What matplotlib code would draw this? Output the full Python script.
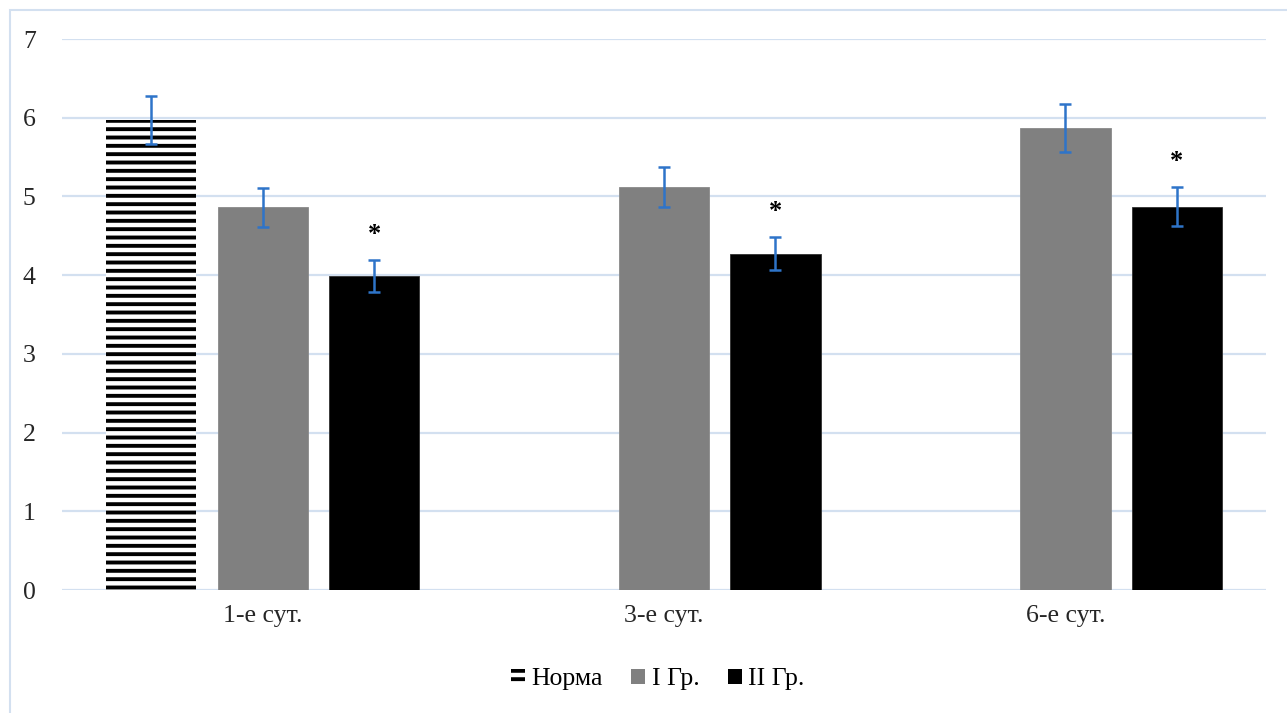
import matplotlib
matplotlib.use("Agg")
import matplotlib.pyplot as plt
import numpy as np
from matplotlib.patches import Rectangle

plt.rcParams['font.family'] = ['Liberation Serif', 'DejaVu Serif']
plt.rcParams['hatch.linewidth'] = 2.8

categories = ["1-е сут.", "3-е сут.", "6-е сут."]
series = ["Норма", "I Гр.", "II Гр."]
norma = [5.97, np.nan, np.nan]
norma_err = [0.30, 0, 0]
gr1 = [4.86, 5.12, 5.87]
gr1_err = [0.25, 0.26, 0.31]
gr2 = [3.99, 4.27, 4.87]
gr2_err = [0.20, 0.21, 0.25]
signif = [True, True, True]  # * over II Гр.

grid_c = "#D3E0F0"
err_c = "#2E74C9"

fig = plt.figure(figsize=(12.87, 7.13), dpi=100)
ax = fig.add_axes([0.0482, 0.1725, 0.9355, 0.7728])

x = np.arange(len(categories))
w = 0.225
off = 0.2775
ekw = dict(ecolor=err_c, elinewidth=1.8, capsize=4.5, capthick=1.8)

ax.bar(x - off, norma, w, color="white", edgecolor="black", hatch="--",
       linewidth=0, yerr=norma_err, error_kw=ekw, zorder=2)
ax.bar(x, gr1, w, color="#808080", edgecolor="#8a8a8a", linewidth=0.6,
       yerr=gr1_err, error_kw=ekw, zorder=2)
ax.bar(x + off, gr2, w, color="black", edgecolor="#303030", linewidth=0.6,
       yerr=gr2_err, error_kw=ekw, zorder=2)

for i, s in enumerate(signif):
    if s:
        ax.text(x[i] + off, gr2[i] + gr2_err[i] + 0.33, "*", ha="center",
                va="center", fontsize=19, fontweight="bold")

ax.set_xlim(-0.5, 2.5)
ax.set_ylim(0, 7)
ax.set_yticks(range(0, 8))
ax.set_xticks(x)
ax.set_xticklabels(categories)
ax.tick_params(axis="both", length=0, labelsize=18.5, colors="#262626")
ax.tick_params(axis="y", pad=19)
ax.tick_params(axis="x", pad=11)
ax.yaxis.grid(True, color=grid_c, linewidth=1.6, zorder=0)
ax.set_axisbelow(True)
for sp in ax.spines.values():
    sp.set_visible(False)

handles = [Rectangle((0, 0), 1, 1, facecolor="white", edgecolor="black",
                     hatch="--", linewidth=0),
           Rectangle((0, 0), 1, 1, facecolor="#808080", linewidth=0),
           Rectangle((0, 0), 1, 1, facecolor="black", linewidth=0)]
fig.legend(handles, series, loc="center", bbox_to_anchor=(0.511, 0.047),
           ncol=3, frameon=False, fontsize=18.5, handlelength=0.55,
           handleheight=0.55, handletextpad=0.25, columnspacing=1.1)

fig.patches.append(Rectangle((10 / 1287, -0.01), 1.02, 1.0 - 10 / 713 + 0.01,
                             transform=fig.transFigure, fill=False,
                             edgecolor=grid_c, linewidth=1.5))

fig.savefig("out.png", dpi=100)
